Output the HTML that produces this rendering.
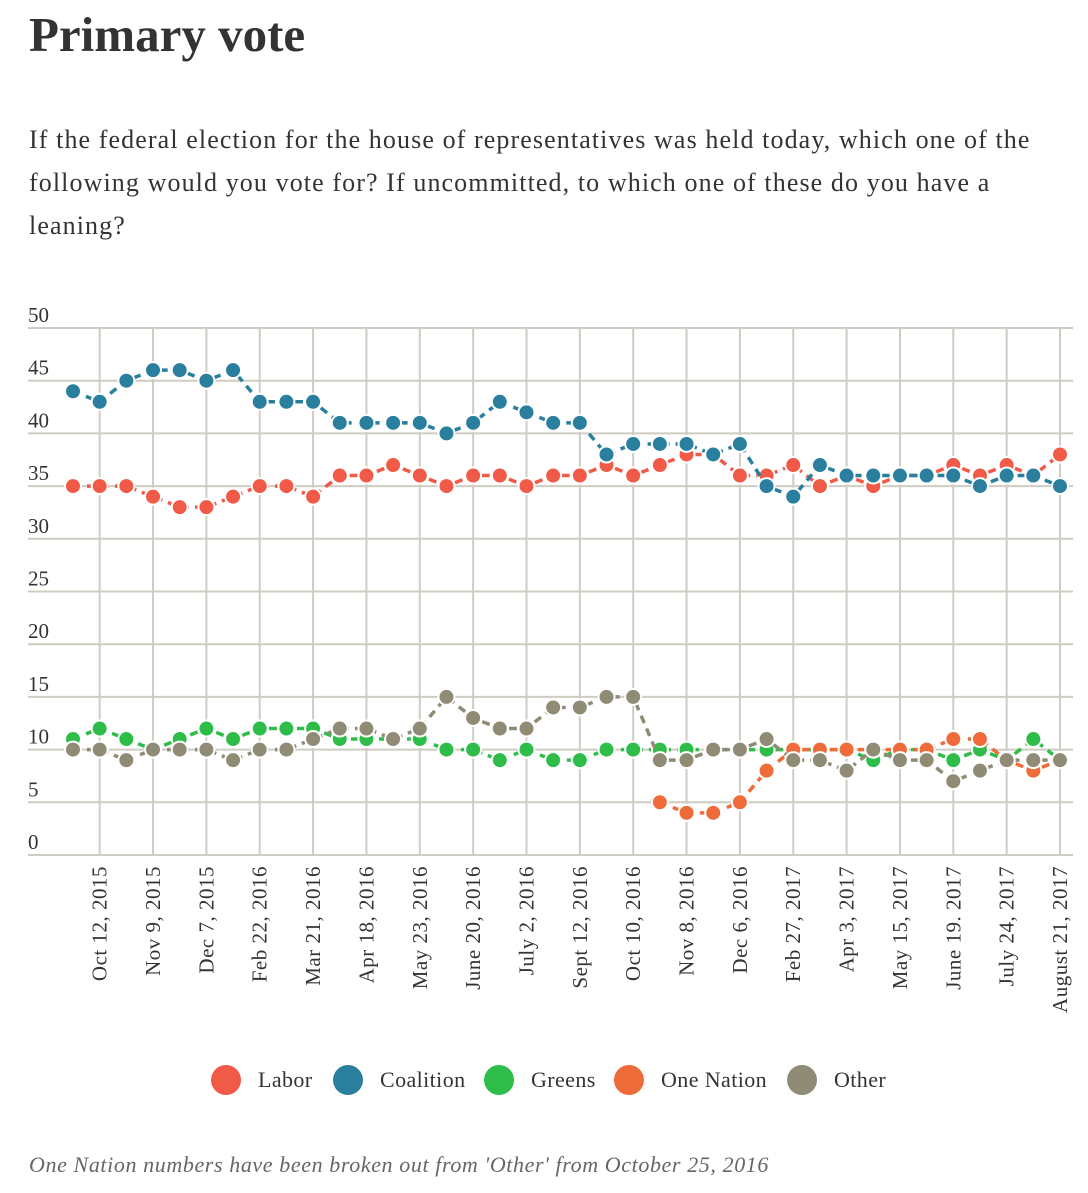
<!DOCTYPE html>
<html><head><meta charset="utf-8"><style>
body{margin:0;background:#fff;width:1088px;height:1193px;overflow:hidden;font-family:"Liberation Serif",serif;color:#333}
h1{position:absolute;left:29px;top:6px;margin:0;font-size:49px;font-weight:bold;color:#333}
p.q{position:absolute;left:29px;top:118px;width:1015px;margin:0;font-size:26px;letter-spacing:1.1px;line-height:43px;color:#333}
svg{position:absolute;left:0;top:0}
.note{position:absolute;left:29px;top:1152px;font-size:22px;letter-spacing:0.6px;font-style:italic;color:#666}
</style></head><body>
<h1>Primary vote</h1>
<p class="q">If the federal election for the house of representatives was held today, which one of the following would you vote for? If uncommitted, to which one of these do you have a leaning?</p>
<svg id="chart" width="1088" height="1193"></svg>
<div class="note">One Nation numbers have been broken out from 'Other' from October 25, 2016</div>
<script>
const dateLabels=["Oct 12, 2015","Nov 9, 2015","Dec 7, 2015","Feb 22, 2016","Mar 21, 2016","Apr 18, 2016","May 23, 2016","June 20, 2016","July 2, 2016","Sept 12, 2016","Oct 10, 2016","Nov 8, 2016","Dec 6, 2016","Feb 27, 2017","Apr 3, 2017","May 15, 2017","June 19. 2017","July 24, 2017","August 21, 2017"];
const yTicks=[0,5,10,15,20,25,30,35,40,45,50];
const labor=[35,35,35,34,33,33,34,35,35,34,36,36,37,36,35,36,36,35,36,36,37,36,37,38,38,36,36,37,35,36,35,36,36,37,36,37,36,38];
const coalition=[44,43,45,46,46,45,46,43,43,43,41,41,41,41,40,41,43,42,41,41,38,39,39,39,38,39,35,34,37,36,36,36,36,36,35,36,36,35];
const greens=[11,12,11,10,11,12,11,12,12,12,11,11,11,11,10,10,9,10,9,9,10,10,10,10,10,10,10,10,10,10,9,10,10,9,10,9,11,9];
const oneNation=[null,null,null,null,null,null,null,null,null,null,null,null,null,null,null,null,null,null,null,null,null,null,5,4,4,5,8,10,10,10,10,10,10,11,11,9,8,9];
const other=[10,10,9,10,10,10,9,10,10,11,12,12,11,12,15,13,12,12,14,14,15,15,9,9,10,10,11,9,9,8,10,9,9,7,8,9,9,9];
const seriesNames=["Labor","Coalition","Greens","One Nation","Other"];
const seriesColors=["#f05a46","#2a7f9e","#2fbd4a","#ef6c3a","#8f8b74"];
const N=38;
const NS="http://www.w3.org/2000/svg";
const svg=document.getElementById('chart');
const x0=73,x1=1060,yTop=328,yBot=855;
const xS=i=>x0+(x1-x0)*i/(N-1);
const yS=v=>yBot-(v/50)*(yBot-yTop);
function mk(t,a,p){const e=document.createElementNS(NS,t);for(const k in a)e.setAttribute(k,a[k]);(p||svg).appendChild(e);return e;}
const grid=mk('g',{});


yTicks.forEach(v=>{
  const l=mk('line',{x1:28,x2:1073,y1:yS(v),y2:yS(v),stroke:'#cfccc2','stroke-width':2},grid);
  
  
  const t=mk('text',{x:28,y:yS(v)-6,'font-size':21,fill:'#333','font-family':'Liberation Serif'});
  t.textContent=v;
  
  
});
dateLabels.forEach((d,k)=>{
  const x=xS(1+2*k);
  const l=mk('line',{x1:x,x2:x,y1:yTop,y2:yBot,stroke:'#cfccc2','stroke-width':2},grid);
  
  
  const t=mk('text',{transform:`translate(${x+7},866) rotate(-90)`,'text-anchor':'end','font-size':21,'letter-spacing':0.5,fill:'#333','font-family':'Liberation Serif'});
  t.textContent=d;
  
  
});
const allSeries=[labor,coalition,greens,oneNation,other];
const order=[2,3,4,0,1];
order.forEach(s=>{
  const data=allSeries[s],c=seriesColors[s];
  const g=mk('g',{});
  
  
  let d='';let started=false;
  data.forEach((v,i)=>{if(v==null)return;d+=(started?'L':'M')+xS(i)+','+yS(v);started=true;});
  const p=mk('path',{d:d,fill:'none',stroke:c,'stroke-width':3.5,'stroke-dasharray':'8,6'},g);
  
  
  data.forEach((v,i)=>{if(v==null)return;
    const ci=mk('circle',{cx:xS(i),cy:yS(v),r:8,fill:c,stroke:'#fff','stroke-width':2},g);
    
    
  });
});
const legX=[226,348,499,629,802];
seriesNames.forEach((n,s)=>{
  const g=mk('g',{});
  
  
  mk('circle',{cx:legX[s],cy:1080,r:15,fill:seriesColors[s]},g);
  const t=mk('text',{x:legX[s]+32,y:1087,'font-size':22,'letter-spacing':0.4,fill:'#333','font-family':'Liberation Serif'},g);
  t.textContent=n;
});
</script>
</body></html>
